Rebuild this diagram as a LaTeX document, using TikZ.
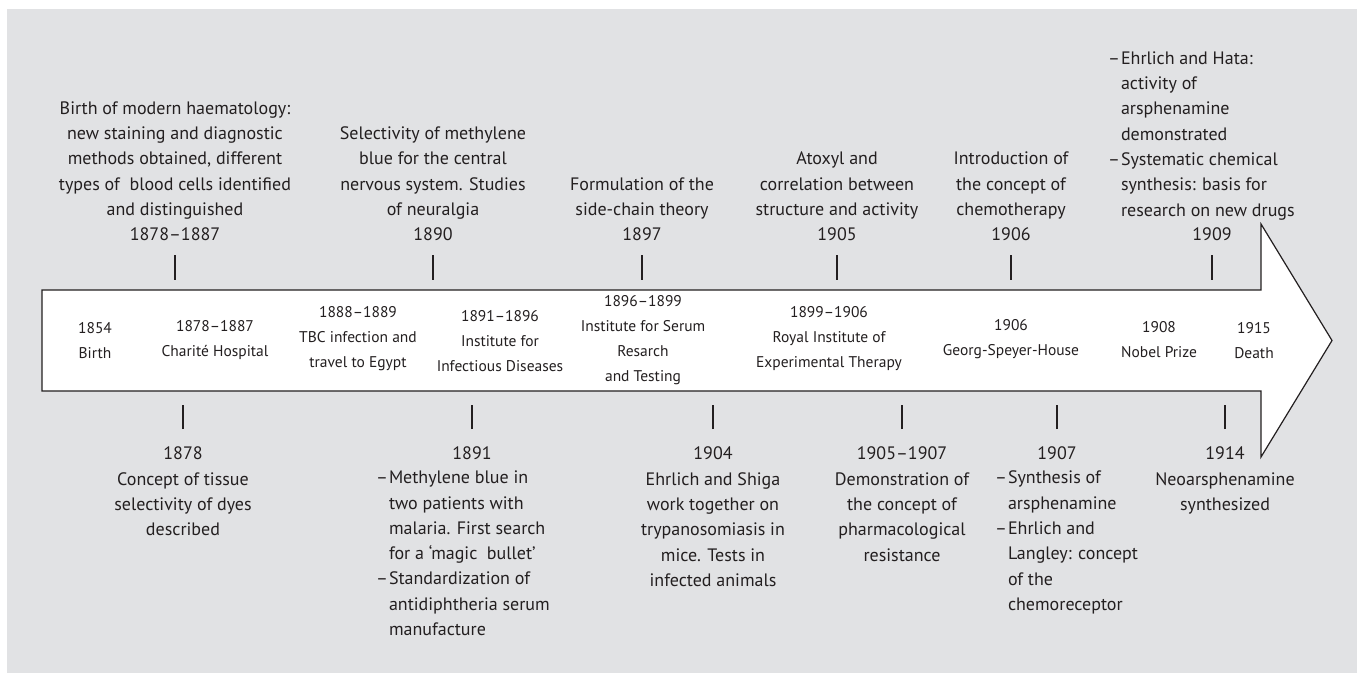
\documentclass[tikz,border=0pt]{standalone}
\usepackage{fontspec}
\setmainfont{PT Sans}
\usepackage{xcolor}
\definecolor{panel}{RGB}{225,226,228}
\definecolor{ink}{RGB}{35,31,32}
\usepackage{tikz}
\usetikzlibrary{positioning}
\newcommand{\itm}{\makebox[13pt][l]{–}}
\newcommand{\ind}{\hspace*{13pt}}

\begin{document}
\begin{tikzpicture}[x=1pt,y=-1pt,every node/.style={inner sep=0,outer sep=0,text=ink},
	event/.style={font=\fontsize{18}{25.3}\selectfont,align=center},
	list/.style={font=\fontsize{18}{25.3}\selectfont,align=left},
	stage/.style={font=\fontsize{15.5}{25}\selectfont,align=center},
	tick/.style={draw=ink,line width=1.1pt}]
	\useasboundingbox (0,0) rectangle (1357,673);
	\fill[panel] (7,9) rectangle (1357,673);
	\draw[ink,line width=1.2pt,fill=white] (42,290) -- (1261,290) -- (1261,224) -- (1332,340.5)
		-- (1261,457) -- (1261,391) -- (42,391) -- cycle;

	\node[stage] (birth) at (95,341) {1854\\Birth};
	\node[stage] (chari) at (215,340) {1878–1887\\Charité Hospital};
	\node[stage] (egyp) at (358,339) {1888–1889\\TBC infection and\\travel to Egypt};
	\node[stage] (infe) at (500,341) {1891–1896\\Institute for\\Infectious Diseases};
	\node[stage] (seru) at (643,340) {1896–1899\\Institute for Serum\\Resarch\\and Testing};
	\node[stage] (roya) at (829,339) {1899–1906\\Royal Institute of\\Experimental Therapy};
	\node[stage] (spey) at (1011,339) {1906\\Georg-Speyer-House};
	\node[stage] (nobe) at (1159,340) {1908\\Nobel Prize};
	\node[stage] (deat) at (1254,341) {1915\\Death};

	\node[event,anchor=south] (hema) at (175,241) {Birth of modern haematology:\\new staining and diagnostic\\methods obtained, different\\types of~ blood cells identified\\and distinguished\\1878–1887};
	\node[event,anchor=south] (neur) at (433,241) {Selectivity of methylene\\blue for the central\\nervous system. Studies\\of neuralgia\\1890};
	\node[event,anchor=south] (side) at (642,241) {Formulation of the\\side-chain theory\\1897};
	\node[event,anchor=south] (atox) at (837,241) {Atoxyl and\\correlation between\\structure and activity\\1905};
	\node[event,anchor=south] (chem) at (1011,241) {Introduction of\\the concept of\\chemotherapy\\1906};
	\node[event,anchor=south] (y1909) at (1212,241) {1909};
	\node[list,anchor=south west] (hata) at (1108,220) {\itm Ehrlich and Hata:\\\ind activity of\\\ind arsphenamine\\\ind demonstrated\\\itm Systematic chemical\\\ind synthesis: basis for\\\ind research on new drugs};

	\node[event,anchor=north] (tiss) at (183,447) {1878\\Concept of tissue\\selectivity of dyes\\described};
	\node[event,anchor=north] (y1891) at (472,447) {1891};
	\node[list,anchor=north west] (mala) at (376,471) {\itm Methylene blue in\\\ind two patients with\\\ind malaria. First search\\\ind for a ‘magic~ bullet’\\\itm Standardization of\\\ind antidiphtheria serum\\\ind manufacture};
	\node[event,anchor=north] (shig) at (713,447) {1904\\Ehrlich and Shiga\\work together on\\trypanosomiasis in\\mice. Tests in\\infected animals};
	\node[event,anchor=north] (resi) at (902,447) {1905–1907\\Demonstration of\\the concept of\\pharmacological\\resistance};
	\node[event,anchor=north] (y1907) at (1057,447) {1907};
	\node[list,anchor=north west] (lang) at (995,471) {\itm Synthesis of\\\ind arsphenamine\\\itm Ehrlich and\\\ind Langley: concept\\\ind of the\\\ind chemoreceptor};
	\node[event,anchor=north] (neoa) at (1225,447) {1914\\Neoarsphenamine\\synthesized};

	\foreach \n in {hema,neur,side,atox,chem,y1909}
		\draw[tick] (\n.south) ++(0,14) -- ++(0,25);
	\foreach \n in {tiss,y1891,shig,resi,y1907,neoa}
		\draw[tick] (\n.north) ++(0,-18) -- ++(0,-24);
\end{tikzpicture}
\end{document}
